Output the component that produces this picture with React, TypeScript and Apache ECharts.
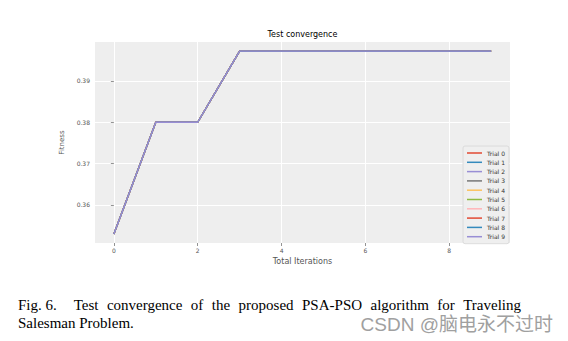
import React, { useEffect, useRef } from "react";
import * as echarts from "echarts";

const iterations = [0, 1, 2, 3, 4, 5, 6, 7, 8, 9];
const fitness = [0.353, 0.38, 0.38, 0.3972, 0.3972, 0.3972, 0.3972, 0.3972, 0.3972, 0.3972];
const trialNames = ["Trial 0", "Trial 1", "Trial 2", "Trial 3", "Trial 4", "Trial 5", "Trial 6", "Trial 7", "Trial 8", "Trial 9"];
const trialColors = ["#E24A33", "#348ABD", "#988ED5", "#777777", "#FBC15E", "#8EBA42", "#FFB5B8", "#E24A33", "#348ABD", "#988ED5"];
const xTicks = [0, 2, 4, 6, 8];
const yTicks = [0.36, 0.37, 0.38, 0.39];

const captionLine1 = ["Fig. 6.", "Test", "convergence", "of", "the", "proposed", "PSA-PSO", "algorithm", "for", "Traveling"];
const captionLine2 = "Salesman Problem.";
const watermark = "CSDN @脑电永不过时";

function layoutJustified(words: string[], font: string, left: number, right: number, firstGapWeight: number): number[] {
  const canvas = document.createElement("canvas");
  const ctx = canvas.getContext("2d");
  const widths = words.map((w) => {
    if (!ctx) return w.length * 6.5;
    ctx.font = font;
    return ctx.measureText(w).width;
  });
  const total = widths.reduce((a, b) => a + b, 0);
  const weights = words.slice(1).map((_, i) => (i === 0 ? firstGapWeight : 1));
  const wsum = weights.reduce((a, b) => a + b, 0);
  const unit = (right - left - total) / wsum;
  const xs: number[] = [];
  let x = left;
  words.forEach((_, i) => {
    xs.push(x);
    x += widths[i] + (i < weights.length ? weights[i] * unit : 0);
  });
  return xs;
}

export default function App() {
  const ref = useRef<HTMLDivElement>(null);
  useEffect(() => {
    if (!ref.current) return;
    const chart = echarts.init(ref.current, undefined, { renderer: "svg" });
    const data = iterations.map((x, i) => [x, fitness[i]]);
    const captionStyle = { fontSize: 15, lineHeight: 15, fill: "#000000", fontFamily: "Liberation Serif", verticalAlign: "middle" };
    const xs = layoutJustified(captionLine1, "15px 'Liberation Serif'", 18, 521, 2);
    chart.setOption({
      animation: false,
      backgroundColor: "#ffffff",
      grid: { left: 95, right: 58, top: 42, bottom: 98, show: true, backgroundColor: "#EEEEEE", borderWidth: 0 },
      xAxis: {
        type: "value",
        min: -0.45,
        max: 9.45,
        name: "Total Iterations",
        nameLocation: "middle",
        nameGap: 14,
        nameTextStyle: { fontSize: 8, color: "#555555", fontFamily: "DejaVu Sans" },
        axisLine: { show: false },
        axisTick: { show: true, customValues: xTicks, length: 3, lineStyle: { color: "#777777", width: 0.8 } },
        axisLabel: { customValues: xTicks, fontSize: 6, color: "#555555", margin: 4, fontFamily: "DejaVu Sans" },
        splitLine: { show: true, lineStyle: { color: "#ffffff", width: 1 } },
      },
      yAxis: {
        type: "value",
        min: 0.3508,
        max: 0.3994,
        name: "Fitness",
        nameLocation: "middle",
        nameGap: 21,
        nameTextStyle: { fontSize: 7, color: "#555555", fontFamily: "DejaVu Sans" },
        axisLine: { show: false },
        axisTick: { show: true, customValues: yTicks, length: 3, lineStyle: { color: "#777777", width: 0.8 } },
        axisLabel: { customValues: yTicks, fontSize: 6, color: "#555555", margin: 5, fontFamily: "DejaVu Sans", formatter: (v: number) => v.toFixed(2) },
        splitLine: { show: true, lineStyle: { color: "#ffffff", width: 1 } },
      },
      legend: {
        orient: "vertical",
        left: 463,
        top: 146,
        padding: [3, 4, 3, 4],
        backgroundColor: "#EFEFEF",
        borderColor: "#D6D6D6",
        borderWidth: 0.8,
        borderRadius: 2,
        itemWidth: 15,
        itemHeight: 1.5,
        itemGap: 1.3,
        icon: "rect",
        textStyle: { fontSize: 6, lineHeight: 8, color: "#333333", fontFamily: "DejaVu Sans" },
        data: trialNames,
      },
      graphic: [
        { type: "text", x: 302.5, y: 34, style: { text: "Test convergence", fontSize: 8, fill: "#000000", fontFamily: "DejaVu Sans", align: "center", verticalAlign: "middle" } },
        ...captionLine1.map((w, i) => ({ type: "text", x: xs[i], y: 305, style: { ...captionStyle, text: w } })),
        { type: "text", x: 18, y: 322.5, style: { ...captionStyle, text: captionLine2 } },
        { type: "text", x: 553, y: 324.5, style: { text: watermark, fontSize: 19, lineHeight: 18, fill: "#A0A0A0", fontFamily: "'Liberation Sans', 'Noto Sans CJK SC'", align: "right", verticalAlign: "middle" } },
      ],
      series: trialNames.map((name, i) => ({
        name,
        type: "line",
        data,
        showSymbol: false,
        symbol: "none",
        color: trialColors[i],
        lineStyle: { width: 1.3, color: trialColors[i] },
      })),
    });
    return () => chart.dispose();
  }, []);
  return <div ref={ref} style={{ position: "absolute", left: 0, top: 0, width: 568, height: 341 }} />;
}
